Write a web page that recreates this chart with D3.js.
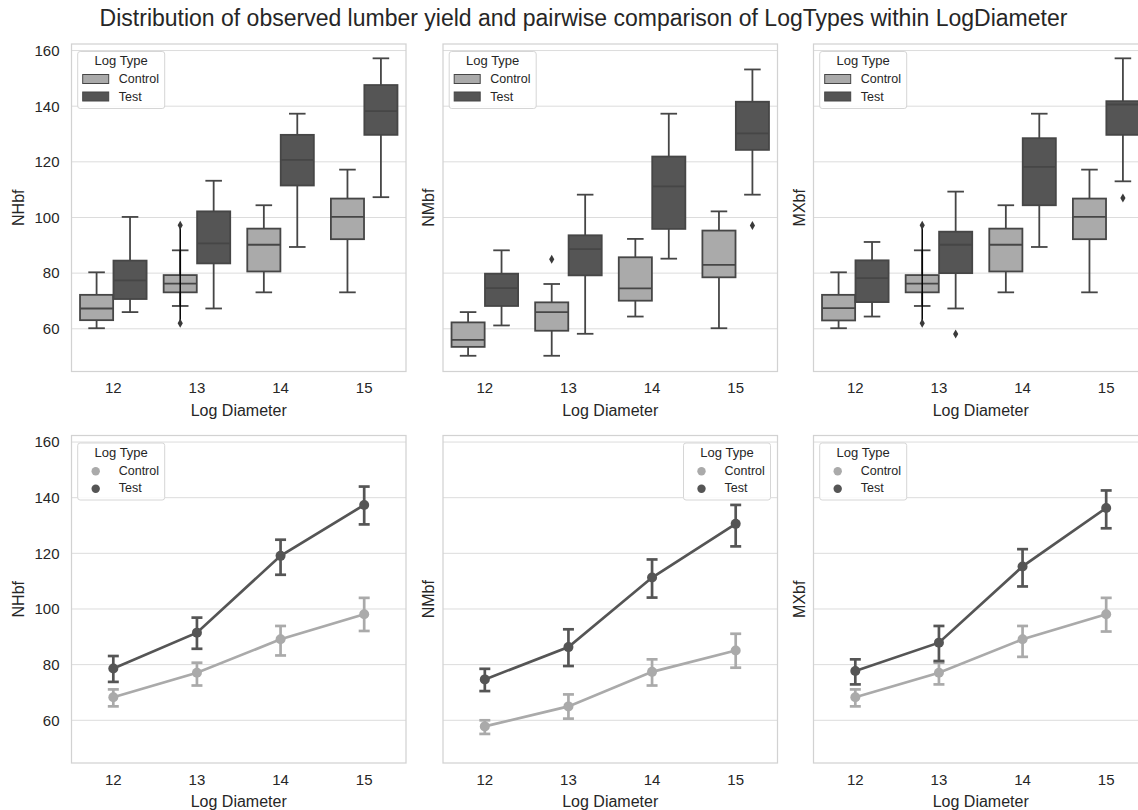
<!DOCTYPE html>
<html>
<head>
<meta charset="utf-8">
<script src="https://cdn.jsdelivr.net/npm/d3@7"></script>
<style>
  body { margin: 0; background: #fff; }
  svg text { font-family: "Liberation Sans", Arial, sans-serif; fill: #262626; }
</style>
</head>
<body>
<svg id="chart"></svg>
<script>
const WIDTH = 1138;
const HEIGHT = 810;

const diameters = ["12", "13", "14", "15"];
const logTypes = ["Control", "Test"];
const metrics = ["NHbf", "NMbf", "MXbf"];
const yTicks = [60, 80, 100, 120, 140, 160];
const yDomain = [44.65, 162.35];

// box stats per diameter: [whisker low, q1, median, q3, whisker high]
const nhbfControlBox = [[60.2, 63.1, 67.3, 72.2, 80.3], [68.2, 73.1, 76.2, 79.3, 88.2], [73.1, 80.6, 90.2, 96.0, 104.4], [73.1, 92.2, 100.2, 106.8, 117.2]];
const nhbfTestBox = [[66.0, 70.7, 77.4, 84.5, 100.2], [67.3, 83.5, 90.7, 102.2, 113.2], [89.4, 111.5, 120.7, 129.7, 137.3], [107.3, 129.7, 138.2, 147.6, 157.2]];
const nhbfControlOut = [[], [97.2, 62.0], [], []];
const nhbfTestOut = [[], [], [], []];

const nmbfControlBox = [[50.3, 53.5, 56.0, 62.3, 66.0], [50.3, 59.3, 66.0, 69.5, 76.1], [64.4, 70.1, 74.5, 85.7, 92.3], [60.2, 78.5, 83.0, 95.3, 102.2]];
const nmbfTestBox = [[61.2, 68.2, 74.6, 79.8, 88.2], [58.2, 79.2, 88.6, 93.6, 108.2], [85.2, 95.9, 111.2, 121.9, 137.3], [108.2, 124.3, 130.2, 141.6, 153.2]];
const nmbfControlOut = [[], [85.0], [], []];
const nmbfTestOut = [[], [], [], [97.1]];

const mxbfControlBox = [[60.2, 63.0, 67.4, 72.2, 80.3], [68.2, 73.1, 76.2, 79.3, 88.2], [73.1, 80.6, 90.2, 96.0, 104.4], [73.1, 92.2, 100.2, 106.8, 117.2]];
const mxbfTestBox = [[64.4, 69.6, 78.2, 84.6, 91.2], [67.3, 80.0, 90.2, 94.9, 109.3], [89.4, 104.4, 118.2, 128.5, 137.3], [113.0, 129.7, 140.6, 141.8, 157.2]];
const mxbfControlOut = [[], [97.2, 62.0], [], []];
const mxbfTestOut = [[], [58.1], [], [107.0]];

// point estimates and confidence intervals per diameter
const nhbfControlMean = [68.3, 77.1, 89.1, 98.1];
const nhbfControlCI = [[65.0, 71.1], [72.5, 80.7], [83.3, 93.9], [92.1, 104.0]];
const nhbfTestMean = [78.6, 91.5, 119.1, 137.4];
const nhbfTestCI = [[73.8, 83.1], [85.7, 96.9], [112.3, 124.9], [130.4, 144.0]];

const nmbfControlMean = [57.8, 65.0, 77.4, 85.1];
const nmbfControlCI = [[55.1, 60.0], [60.6, 69.3], [72.5, 81.9], [78.9, 91.1]];
const nmbfTestMean = [74.7, 86.3, 111.3, 130.6];
const nmbfTestCI = [[70.5, 78.5], [79.5, 92.7], [104.1, 117.8], [122.5, 137.4]];

const mxbfControlMean = [68.3, 77.1, 89.1, 98.1];
const mxbfControlCI = [[65.0, 71.1], [72.9, 80.7], [82.8, 93.9], [91.9, 104.0]];
const mxbfTestMean = [77.7, 87.9, 115.3, 136.3];
const mxbfTestCI = [[72.9, 81.9], [81.3, 93.9], [108.1, 121.5], [129.0, 142.6]];

const boxPanels = [
  { metric: "NHbf", box: [nhbfControlBox, nhbfTestBox], out: [nhbfControlOut, nhbfTestOut] },
  { metric: "NMbf", box: [nmbfControlBox, nmbfTestBox], out: [nmbfControlOut, nmbfTestOut] },
  { metric: "MXbf", box: [mxbfControlBox, mxbfTestBox], out: [mxbfControlOut, mxbfTestOut] }
];
const pointPanels = [
  { metric: "NHbf", mean: [nhbfControlMean, nhbfTestMean], ci: [nhbfControlCI, nhbfTestCI], legendRight: false },
  { metric: "NMbf", mean: [nmbfControlMean, nmbfTestMean], ci: [nmbfControlCI, nmbfTestCI], legendRight: true },
  { metric: "MXbf", mean: [mxbfControlMean, mxbfTestMean], ci: [mxbfControlCI, mxbfTestCI], legendRight: false }
];

const COLORS = { Control: "#aaaaaa", Test: "#555555" };
const EDGE = "#464646";
const PANEL_LEFT = [71.5, 443, 813.5];
const PANEL_W = 334.5;
const ROW_TOP = [44, 435.5];
const PANEL_H = 327.5;
const LEGEND_W = 87;
const LEGEND_H = 57;

const svg = d3.select("#chart").attr("width", WIDTH).attr("height", HEIGHT);

svg.append("text")
  .attr("x", 583.5).attr("y", 26)
  .attr("text-anchor", "middle")
  .style("font-size", "23px")
  .text("Distribution of observed lumber yield and pairwise comparison of LogTypes within LogDiameter");

function makeAxes(col, row) {
  const left = PANEL_LEFT[col], top = ROW_TOP[row];
  const x = d3.scaleBand().domain(diameters).range([left, left + PANEL_W]);
  const y = d3.scaleLinear().domain(yDomain).range([top + PANEL_H, top]);
  const g = svg.append("g");

  // horizontal grid
  g.selectAll(".grid").data(yTicks).enter().append("line")
    .attr("x1", left).attr("x2", left + PANEL_W)
    .attr("y1", d => y(d)).attr("y2", d => y(d))
    .attr("stroke", "#dcdcdc").attr("stroke-width", 1);

  // x tick labels
  const xAxis = g.append("g")
    .attr("transform", `translate(0,${top + PANEL_H})`)
    .call(d3.axisBottom(x).tickSize(0).tickPadding(11));
  xAxis.select(".domain").remove();
  xAxis.selectAll("text").style("font-size", "15px").attr("fill", "#262626");

  if (col === 0) {
    const yAxis = g.append("g")
      .attr("transform", `translate(${left},0)`)
      .call(d3.axisLeft(y).tickValues(yTicks).tickSize(0).tickPadding(12));
    yAxis.select(".domain").remove();
    yAxis.selectAll("text").style("font-size", "15px").attr("fill", "#262626");
  }

  g.append("text")
    .attr("x", left + PANEL_W / 2).attr("y", top + PANEL_H + 44)
    .attr("text-anchor", "middle").style("font-size", "16px")
    .text("Log Diameter");

  const labelX = col === 0 ? left - 47.5 : left - 9;
  g.append("text")
    .attr("transform", `translate(${labelX},${top + PANEL_H / 2}) rotate(-90)`)
    .attr("text-anchor", "middle").style("font-size", "16px")
    .text(metrics[col]);

  return { x, y, g, left, top };
}

function drawFrame(ax) {
  ax.g.append("rect")
    .attr("x", ax.left).attr("y", ax.top)
    .attr("width", PANEL_W).attr("height", PANEL_H)
    .attr("fill", "none").attr("stroke", "#d2d2d2").attr("stroke-width", 1.25);
}

function drawLegend(ax, right, kind) {
  const bx = right ? ax.left + PANEL_W - 7 - LEGEND_W : ax.left + 6.2;
  const by = ax.top + 7.5;
  const lg = ax.g.append("g").attr("transform", `translate(${bx},${by})`);
  lg.append("rect")
    .attr("width", LEGEND_W).attr("height", LEGEND_H).attr("rx", 2.5)
    .attr("fill", "#ffffff").attr("fill-opacity", 0.85)
    .attr("stroke", "#d6d6d6").attr("stroke-width", 1);
  lg.append("text")
    .attr("x", LEGEND_W / 2).attr("y", 13.5)
    .attr("text-anchor", "middle").style("font-size", "13px")
    .text("Log Type");
  logTypes.forEach((t, i) => {
    const cy = 27.5 + i * 17.5;
    if (kind === "box") {
      lg.append("rect")
        .attr("x", 5).attr("y", cy - 4.5).attr("width", 26).attr("height", 9)
        .attr("fill", COLORS[t]).attr("stroke", EDGE).attr("stroke-width", 1);
    } else {
      lg.append("circle")
        .attr("cx", 18).attr("cy", cy + 0.8).attr("r", 4.2)
        .attr("fill", COLORS[t]);
    }
    lg.append("text")
      .attr("x", 41).attr("y", cy + 4.3)
      .style("font-size", "12.5px")
      .text(t);
  });
}

// top row: box plots
boxPanels.forEach((p, col) => {
  const ax = makeAxes(col, 0);
  const sub = d3.scaleBand().domain(logTypes).range([0, ax.x.bandwidth() * 0.8]);
  const boxW = sub.bandwidth() * 0.99;
  const capW = boxW * 0.5;
  logTypes.forEach((t, ti) => {
    diameters.forEach((dia, di) => {
      const s = p.box[ti][di];
      const cx = ax.x(dia) + ax.x.bandwidth() * 0.1 + sub(t) + sub.bandwidth() / 2;
      const bg = ax.g.append("g");
      // whiskers
      bg.append("line").attr("x1", cx).attr("x2", cx)
        .attr("y1", ax.y(s[0])).attr("y2", ax.y(s[1]))
        .attr("stroke", EDGE).attr("stroke-width", 1.8);
      bg.append("line").attr("x1", cx).attr("x2", cx)
        .attr("y1", ax.y(s[3])).attr("y2", ax.y(s[4]))
        .attr("stroke", EDGE).attr("stroke-width", 1.8);
      [s[0], s[4]].forEach(v => {
        bg.append("line").attr("x1", cx - capW / 2).attr("x2", cx + capW / 2)
          .attr("y1", ax.y(v)).attr("y2", ax.y(v))
          .attr("stroke", EDGE).attr("stroke-width", 1.8);
      });
      bg.append("rect")
        .attr("x", cx - boxW / 2).attr("y", ax.y(s[3]))
        .attr("width", boxW).attr("height", ax.y(s[1]) - ax.y(s[3]))
        .attr("fill", COLORS[t]).attr("stroke", EDGE).attr("stroke-width", 1.8);
      bg.append("line").attr("x1", cx - boxW / 2).attr("x2", cx + boxW / 2)
        .attr("y1", ax.y(s[2])).attr("y2", ax.y(s[2]))
        .attr("stroke", EDGE).attr("stroke-width", 1.8);
      // fliers
      const out = p.out[ti][di];
      if (out.length > 1) {
        bg.append("line").attr("x1", cx).attr("x2", cx)
          .attr("y1", ax.y(d3.max(out))).attr("y2", ax.y(d3.min(out)))
          .attr("stroke", "#000").attr("stroke-width", 1.5);
      }
      bg.selectAll(".flier").data(out).enter().append("path")
        .attr("transform", v => `translate(${cx},${ax.y(v)})`)
        .attr("d", "M0,-4.5L2.6,0L0,4.5L-2.6,0Z")
        .attr("fill", "#3a3a3a");
    });
  });
  drawFrame(ax);
  drawLegend(ax, false, "box");
});

// bottom row: point plots with confidence intervals
pointPanels.forEach((p, col) => {
  const ax = makeAxes(col, 1);
  const cxOf = d => ax.x(d) + ax.x.bandwidth() / 2;
  logTypes.forEach((t, ti) => {
    const pts = diameters.map((d, i) => ({ d, m: p.mean[ti][i], ci: p.ci[ti][i] }));
    const color = COLORS[t];
    ax.g.append("path").datum(pts)
      .attr("d", d3.line().x(v => cxOf(v.d)).y(v => ax.y(v.m)))
      .attr("fill", "none").attr("stroke", color).attr("stroke-width", 2.7);
    pts.forEach(v => {
      const cx = cxOf(v.d);
      ax.g.append("line").attr("x1", cx).attr("x2", cx)
        .attr("y1", ax.y(v.ci[0])).attr("y2", ax.y(v.ci[1]))
        .attr("stroke", color).attr("stroke-width", 2.7);
      v.ci.forEach(c => {
        ax.g.append("line").attr("x1", cx - 5.5).attr("x2", cx + 5.5)
          .attr("y1", ax.y(c)).attr("y2", ax.y(c))
          .attr("stroke", color).attr("stroke-width", 2.7);
      });
      ax.g.append("circle").attr("cx", cx).attr("cy", ax.y(v.m)).attr("r", 5)
        .attr("fill", color);
    });
  });
  drawFrame(ax);
  drawLegend(ax, p.legendRight, "point");
});
</script>
</body>
</html>
